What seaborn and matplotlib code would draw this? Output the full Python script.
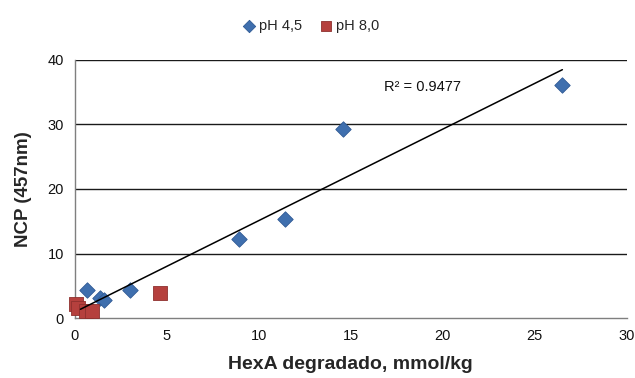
import numpy as np
import pandas as pd
import matplotlib
matplotlib.use("Agg")
import matplotlib.pyplot as plt
import seaborn as sns

# HexA degradado (mmol/kg) vs NCP (457 nm)
hexa_ph45 = [0.65, 1.35, 1.6, 3.0, 8.9, 11.4, 14.6, 26.5]
ncp_ph45 = [4.3, 3.2, 2.9, 4.4, 12.3, 15.4, 29.3, 36.1]
hexa_ph80 = [0.05, 0.15, 0.6, 0.95, 4.6]
ncp_ph80 = [2.2, 1.6, 1.1, 1.1, 3.9]
series_labels = ["pH 4,5", "pH 8,0"]
r2_text = "R² = 0.9477"

df = pd.DataFrame({
    "hexa": hexa_ph45 + hexa_ph80,
    "ncp": ncp_ph45 + ncp_ph80,
    "serie": [series_labels[0]] * len(hexa_ph45) + [series_labels[1]] * len(hexa_ph80),
})

sns.set_theme(style="white")
plt.rcParams["font.family"] = ["Liberation Sans", "DejaVu Sans"]

fig = plt.figure(figsize=(6.35, 3.78), dpi=100)
ax = fig.add_axes([0.118, 0.158, 0.869, 0.684])

# linear trend over all points
coef = np.polyfit(df["hexa"], df["ncp"], 1)
xs = np.array([0.3, df["hexa"].max()])
ax.plot(xs, np.polyval(coef, xs), color="black", lw=1.1, zorder=5)

d45 = df[df["serie"] == series_labels[0]]
d80 = df[df["serie"] == series_labels[1]]
sns.scatterplot(data=d45, x="hexa", y="ncp", marker="D", s=62,
                color="#3F6FAE", edgecolor="#2F5A94", linewidth=0.6,
                ax=ax, zorder=3, label=series_labels[0], clip_on=False)
sns.scatterplot(data=d80, x="hexa", y="ncp", marker="s", s=95,
                color="#B5403D", edgecolor="#8E302E", linewidth=0.6,
                ax=ax, zorder=4, label=series_labels[1], clip_on=False)

ax.set_xlim(0, 30)
ax.set_ylim(0, 40)
ax.set_xticks(range(0, 31, 5))
ax.set_yticks(range(0, 41, 10))
for yv in range(10, 41, 10):
    ax.axhline(yv, color="#1a1a1a", lw=1.0, zorder=1)

for s in ["top", "right"]:
    ax.spines[s].set_visible(False)
for s in ["left", "bottom"]:
    ax.spines[s].set_color("#7f7f7f")
    ax.spines[s].set_linewidth(1.0)
ax.tick_params(axis="both", which="major", direction="out", length=5, width=1,
               color="#7f7f7f", labelsize=10.5, labelcolor="#111111", pad=3)

ax.set_xlabel("HexA degradado, mmol/kg", fontsize=14, fontweight="bold", labelpad=9)
ax.set_ylabel("NCP (457nm)", fontsize=13.5, fontweight="bold", labelpad=11)

ax.text(16.8, 35.8, r2_text, fontsize=10.5, color="#111111", va="center", ha="left")

leg = ax.legend(loc="lower center", bbox_to_anchor=(0.42, 1.08), ncol=2, frameon=False,
                fontsize=10.5, handletextpad=-0.3, columnspacing=0.6, borderaxespad=0,
                markerscale=0.8)

fig.savefig("out.png", dpi=100)
